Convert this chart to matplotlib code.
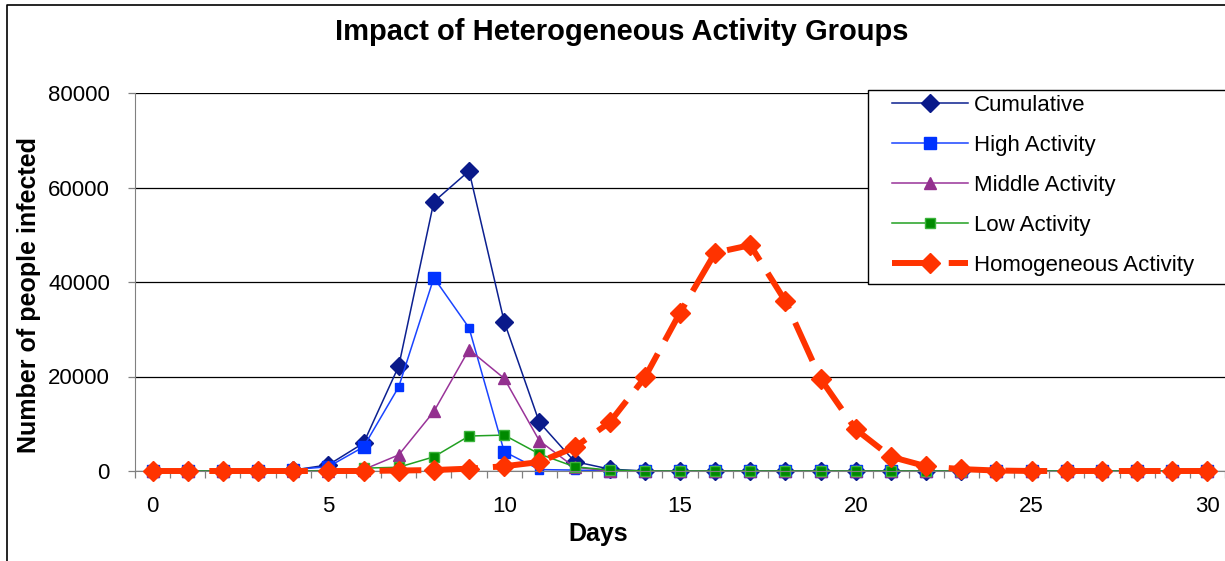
import matplotlib
matplotlib.use("Agg")
import matplotlib.pyplot as plt
from matplotlib.lines import Line2D
from matplotlib.patches import Rectangle
import numpy as np

# ---- data: new infections per day for each activity group ----
days = list(range(31))
cumulative = [0, 0, 0, 0, 200, 1300, 5900, 22200, 57000, 63500, 31600, 10300, 2000, 400,
              0, 0, 0, 0, 0, 0, 0, 0, 0, 0, 0, 0, 0, 0, 0, 0, 0]
high_activity = [0, 0, 0, 0, 300, 900, 5100, 17800, 40900, 30300, 4100, 300, 200, 0,
                 0, 0, 0, 0, 0, 0, 0, 0, 0, 0, 0, 0, 0, 0, 0, 0, 0]
middle_activity = [0, 0, 0, 0, 0, 100, 300, 3400, 12600, 25700, 19600, 6400, 800, 0,
                   0, 0, 0, 0, 0, 0, 0, 0, 0, 0, 0, 0, 0, 0, 0, 0, 0]
low_activity = [0, 0, 0, 0, 0, 0, 600, 800, 3000, 7400, 7600, 3600, 900, 200,
                0, 0, 0, 0, 0, 0, 0, 0, 0, 0, 0, 0, 0, 0, 0, 0, 0]
homogeneous = [0, 0, 0, 0, 0, 0, 0, 100, 200, 500, 1000, 1900, 5000, 10300, 19800,
               33500, 46200, 47800, 35900, 19500, 8800, 3000, 1000, 400, 100,
               0, 0, 0, 0, 0, 0]

series_labels = ["Cumulative", "High Activity", "Middle Activity",
                 "Low Activity", "Homogeneous Activity"]
x_tick_values = [0, 5, 10, 15, 20, 25, 30]
y_tick_values = [0, 20000, 40000, 60000, 80000]

plt.rcParams["font.family"] = ["Liberation Sans", "DejaVu Sans"]

W, H = 1225, 561
fig = plt.figure(figsize=(W / 100, H / 100), dpi=100)
fig.patch.set_facecolor("white")

ax = fig.add_axes([135 / W, 1 - 471 / H, (1225 - 135) / W, (471 - 93) / H])

line_kw = dict(clip_on=False, linewidth=1.1)
ax.plot(days, cumulative, color="#0c2090", marker="D", markersize=9.2,
        markerfacecolor="#0a1a8a", markeredgecolor="#0a1a8a", label=series_labels[0],
        **line_kw)
small_idx = (7, 9, 11, 12)
big_idx = [i for i in range(len(days)) if i not in small_idx]
ax.plot(days, high_activity, color="#1a44ff", marker="s", markersize=8.5,
        markerfacecolor="#0033ff", markeredgecolor="#0033ff", markevery=big_idx,
        label=series_labels[1], **line_kw)
ax.plot([days[i] for i in small_idx], [high_activity[i] for i in small_idx],
        linestyle="none", marker="s", markersize=5.5, color="#0033ff", clip_on=False)
ax.plot(days, middle_activity, color="#993399", marker="^", markersize=9,
        markerfacecolor="#93308f", markeredgecolor="#93308f", label=series_labels[2],
        **line_kw)
ax.plot(days, low_activity, color="#22a022", marker="s", markersize=7,
        markerfacecolor="#008a00", markeredgecolor="#3cb43c", label=series_labels[3],
        **line_kw)
ax.plot(days, homogeneous, color="#ff3300", linewidth=4.3, dashes=(7, 2.5),
        marker="D", markersize=10.5, markerfacecolor="#ff3300",
        markeredgecolor="#ff3300", label=series_labels[4], clip_on=False,
        zorder=3)

ax.set_xlim(-0.5, 30.5)
ax.set_ylim(0, 80000)

# gridlines
ax.set_yticks(y_tick_values)
ax.set_yticklabels([str(v) for v in y_tick_values], fontsize=16)
ax.yaxis.grid(True, color="black", linewidth=0.9)
ax.set_axisbelow(True)
ax.tick_params(axis="y", direction="out", length=5, width=0.9, color="#808080", pad=13)

# category axis: ticks between categories, labels every five days
ax.set_xticks(x_tick_values)
ax.set_xticklabels([str(v) for v in x_tick_values], fontsize=16)
ax.set_xticks(np.arange(-0.5, 31, 1.0), minor=True)
ax.tick_params(axis="x", which="major", length=0, pad=18)
ax.tick_params(axis="x", which="minor", direction="out", length=5, width=0.9,
               color="#808080")

for side in ("top", "right"):
    ax.spines[side].set_visible(False)
ax.spines["left"].set_color("#808080")
ax.spines["bottom"].set_color("#808080")

ax.set_xlabel("Days", fontsize=18, fontweight="bold")
ax.xaxis.set_label_coords((598 - 135) / (1225 - 135), -(534 - 471) / (471 - 93),
                          transform=ax.transAxes)
ax.xaxis.label.set_verticalalignment("center")
ax.set_ylabel("Number of people infected", fontsize=18, fontweight="bold")
ax.yaxis.set_label_coords(-(135 - 29) / (1225 - 135), (471 - 295) / (471 - 93))
ax.yaxis.label.set_verticalalignment("center")

fig.text(622 / W, 1 - 32 / H, "Impact of Heterogeneous Activity Groups",
         ha="center", va="center", fontsize=21, fontweight="bold")

# legend box
fig.add_artist(Rectangle((868 / W, 1 - 284 / H), (1240 - 868) / W, (284 - 90) / H,
                         transform=fig.transFigure, facecolor="white",
                         edgecolor="black", linewidth=1.0, zorder=4))
handles, labels = ax.get_legend_handles_labels()
leg = fig.legend(handles, labels, loc="upper left",
                 bbox_to_anchor=(892 / W, 1 - 95 / H), bbox_transform=fig.transFigure,
                 frameon=False, fontsize=16, handlelength=3.4, handletextpad=0.3,
                 labelspacing=0.85, borderaxespad=0, borderpad=0)
leg.set_zorder(6)

# outer chart border
fig.add_artist(Line2D([7 / W, 7 / W, 1.0], [0.0, 1 - 5 / H, 1 - 5 / H],
                      transform=fig.transFigure, color="black", linewidth=1.2))

fig.savefig("out.png", dpi=100)
